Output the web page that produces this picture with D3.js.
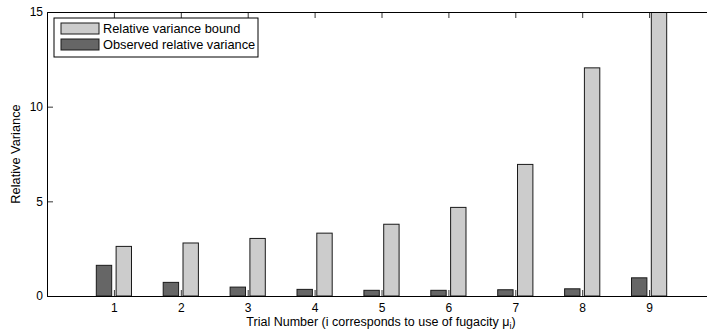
<!DOCTYPE html>
<html>
<head>
<meta charset="utf-8">
<script src="https://cdn.jsdelivr.net/npm/d3@7"></script>
<style>
  html, body { margin: 0; padding: 0; background: #fff; }
  svg { display: block; font-family: "Liberation Sans", Arial, Helvetica, sans-serif; }
</style>
</head>
<body>
<svg id="chart" width="707" height="331"></svg>
<script>
// Trial numbers (fugacity index i)
const trials = [1, 2, 3, 4, 5, 6, 7, 8, 9];
// Theoretical bound on the relative variance for each trial
const boundValues = [2.62, 2.80, 3.04, 3.32, 3.79, 4.68, 6.95, 12.05, 17.0];
// Relative variance measured in each trial
const observedValues = [1.62, 0.72, 0.47, 0.35, 0.30, 0.30, 0.33, 0.38, 0.96];
const yTicks = [0, 5, 10, 15];
const seriesNames = ["Relative variance bound", "Observed relative variance"];

const svg = d3.select("#chart");
const plotLeft = 47, plotTop = 12, plotBottom = 296, plotRight = 716;

const x = d3.scaleLinear().domain([0, 10]).range([plotLeft, plotRight]);
const y = d3.scaleLinear().domain([0, 15]).range([plotBottom, plotTop]);

const barW = 0.23;          // bar width in category units
const offset = 0.148;       // half-distance between paired bar centres

svg.append("defs").append("clipPath").attr("id", "plotClip")
  .append("rect").attr("x", plotLeft).attr("y", plotTop)
  .attr("width", plotRight - plotLeft).attr("height", plotBottom - plotTop);

const bars = svg.append("g").attr("clip-path", "url(#plotClip)");

// Observed (dark) bars, left of each tick
bars.selectAll("rect.obs").data(trials).join("rect")
  .attr("class", "obs")
  .attr("x", (d) => x(d - offset - barW / 2))
  .attr("width", x(barW) - x(0))
  .attr("y", (d, i) => y(observedValues[i]))
  .attr("height", (d, i) => y(0) - y(observedValues[i]))
  .attr("fill", "#666666")
  .attr("stroke", "#1a1a1a")
  .attr("stroke-width", 1);

// Bound (light) bars, right of each tick
bars.selectAll("rect.bnd").data(trials).join("rect")
  .attr("class", "bnd")
  .attr("x", (d) => x(d + offset - barW / 2))
  .attr("width", x(barW) - x(0))
  .attr("y", (d, i) => y(boundValues[i]))
  .attr("height", (d, i) => y(0) - y(boundValues[i]))
  .attr("fill", "#cccccc")
  .attr("stroke", "#1a1a1a")
  .attr("stroke-width", 1);

// Axes: inward ticks on all sides (box style)
const tickLen = 6;
const xBottom = svg.append("g").attr("transform", `translate(0,${plotBottom})`)
  .call(d3.axisBottom(x).tickValues(trials).tickSize(-tickLen).tickSizeOuter(0));
const xTop = svg.append("g").attr("transform", `translate(0,${plotTop})`)
  .call(d3.axisTop(x).tickValues(trials).tickSize(-tickLen).tickFormat("").tickSizeOuter(0));
const yLeft = svg.append("g").attr("transform", `translate(${plotLeft},0)`)
  .call(d3.axisLeft(y).tickValues(yTicks).tickSize(-tickLen).tickSizeOuter(0));

[xBottom, xTop, yLeft].forEach((g) => {
  g.select(".domain").attr("stroke", "#000").attr("stroke-width", 1);
  g.selectAll(".tick line").attr("stroke", "#000").attr("stroke-width", 0.8);
  g.selectAll(".tick text").attr("font-size", 12).attr("fill", "#000")
    .attr("font-family", "\"Liberation Sans\", Arial, sans-serif");
});
xBottom.selectAll(".tick text").attr("dy", 0).attr("y", 15.5);
yLeft.selectAll(".tick text").attr("x", -4);

// Axis titles
const xt = svg.append("text")
  .attr("x", 381).attr("y", 325.5)
  .attr("text-anchor", "middle").attr("font-size", 12.5).attr("fill", "#000");
xt.append("tspan").text("Trial Number (i corresponds to use of fugacity ");
xt.append("tspan").text("μ");
xt.append("tspan").attr("font-size", 9).attr("dy", 3.5).text("i");
xt.append("tspan").attr("dy", -3.5).text(")");

svg.append("text")
  .attr("transform", `translate(20,${(plotTop + plotBottom) / 2}) rotate(-90)`)
  .attr("text-anchor", "middle").attr("font-size", 12.8).attr("fill", "#000")
  .text("Relative Variance");

// Legend
const legend = svg.append("g");
legend.append("rect")
  .attr("x", 54).attr("y", 18).attr("width", 204).attr("height", 39)
  .attr("fill", "#fff").attr("stroke", "#000").attr("stroke-width", 1);
const legendColors = ["#cccccc", "#666666"];
seriesNames.forEach((name, i) => {
  const ry = 23 + i * 16;
  legend.append("rect")
    .attr("x", 61).attr("y", ry).attr("width", 38).attr("height", 11)
    .attr("fill", legendColors[i]).attr("stroke", "#1a1a1a").attr("stroke-width", 1);
  legend.append("text")
    .attr("x", 103).attr("y", ry + 10)
    .attr("font-size", 12.8).attr("fill", "#000")
    .text(name);
});
</script>
</body>
</html>
